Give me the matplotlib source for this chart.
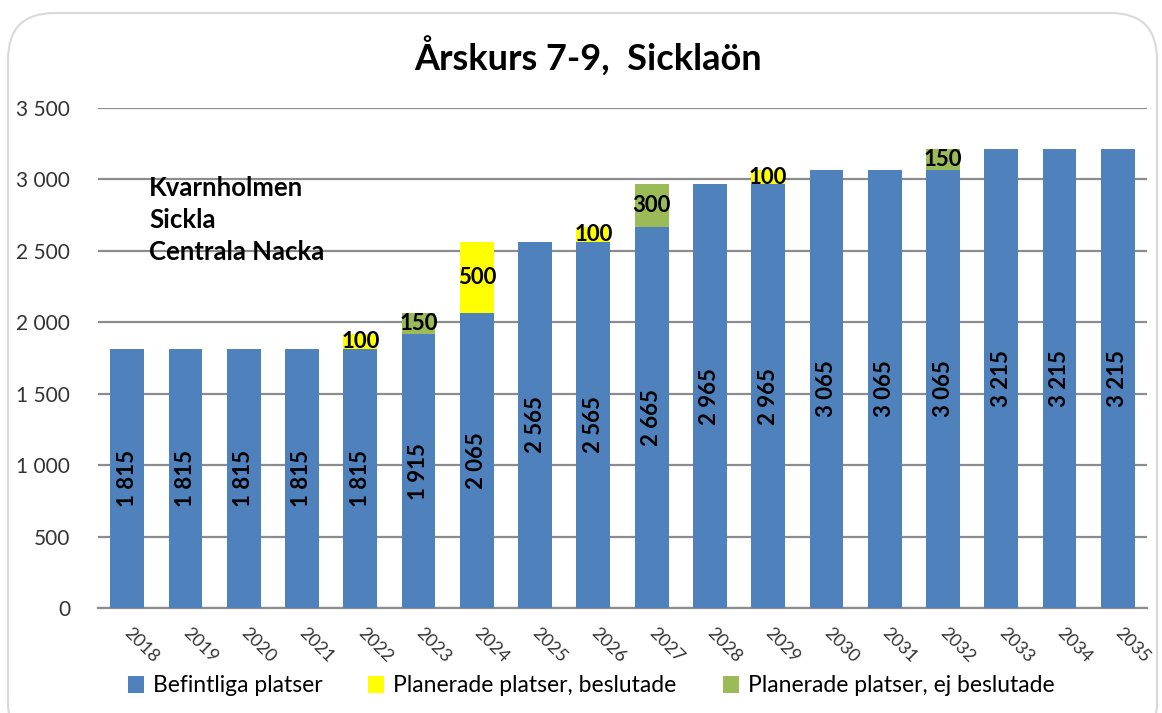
import matplotlib
matplotlib.use("Agg")
import matplotlib.pyplot as plt
from matplotlib.patches import FancyBboxPatch
import numpy as np

years = ["2018", "2019", "2020", "2021", "2022", "2023", "2024", "2025", "2026",
         "2027", "2028", "2029", "2030", "2031", "2032", "2033", "2034", "2035"]
befintliga = [1815, 1815, 1815, 1815, 1815, 1915, 2065, 2565, 2565,
              2665, 2965, 2965, 3065, 3065, 3065, 3215, 3215, 3215]
beslutade = [0, 0, 0, 0, 100, 0, 500, 0, 100, 0, 0, 100, 0, 0, 0, 0, 0, 0]
ej_beslutade = [0, 0, 0, 0, 0, 150, 0, 0, 0, 300, 0, 0, 0, 0, 150, 0, 0, 0]
series_names = ["Befintliga platser", "Planerade platser, beslutade",
                "Planerade platser, ej beslutade"]
title = "Årskurs 7-9,  Sicklaön"
area_lines = ["Kvarnholmen", "Sickla", "Centrala Nacka"]
yticks = [0, 500, 1000, 1500, 2000, 2500, 3000, 3500]

FONT = ["Lato", "DejaVu Sans"]
plt.rcParams["font.family"] = FONT

c_blue = "#4F81BD"
c_yellow = "#FFFF00"
c_green = "#9BBB59"

def fmt(v):
    return f"{v:,}".replace(",", " ")

fig = plt.figure(figsize=(11.62, 7.13), dpi=100)
W, H = 1162, 713

# rounded border
border = FancyBboxPatch((8 / W, -0.05), (1149 / W), (1 - 13 / H) + 0.05,
                        boxstyle="round,pad=0,rounding_size=0.04",
                        transform=fig.transFigure, facecolor="none",
                        edgecolor="#D9D9D9", linewidth=1.5, zorder=-1,
                        mutation_aspect=W / H)
fig.patches.append(border)

ax = fig.add_axes([98 / W, 1 - 608 / H, (1147 - 98) / W, (608 - 108) / H])
ax.set_facecolor("none")

x = np.arange(len(years))
bw = 0.58
b1 = np.array(befintliga)
b2 = np.array(beslutade)
b3 = np.array(ej_beslutade)
ax.bar(x, b1, bw, color=c_blue, label=series_names[0], zorder=3)
ax.bar(x, b2, bw, bottom=b1, color=c_yellow, label=series_names[1], zorder=3)
ax.bar(x, b3, bw, bottom=b1 + b2, color=c_green, label=series_names[2], zorder=3)

for i in range(len(years)):
    ax.text(x[i], b1[i] / 2, fmt(b1[i]), rotation=90, ha="center", va="center",
            fontsize=16, fontweight="bold", color="black", zorder=5)
    if b2[i] > 0:
        ax.text(x[i], b1[i] + b2[i] / 2, fmt(b2[i]), ha="center", va="center",
                fontsize=16, fontweight="bold", color="black", zorder=5)
    if b3[i] > 0:
        ax.text(x[i], b1[i] + b2[i] + b3[i] / 2, fmt(b3[i]), ha="center", va="center",
                fontsize=16, fontweight="bold", color="black", zorder=5)

ax.set_xlim(-0.5, len(years) - 0.5)
ax.set_ylim(0, 3500)
ax.set_yticks(yticks)
ax.set_yticklabels([fmt(v) for v in yticks], fontsize=15, color="#333333")
ax.set_xticks(x)
ax.set_xticklabels(years, rotation=-45, ha="left", va="center", fontsize=13,
                   color="#333333", rotation_mode="anchor")
ax.tick_params(axis="y", length=0, pad=20)
ax.tick_params(axis="x", length=0, pad=16)
ax.yaxis.grid(True, color="#8C8C8C", linewidth=1.6, zorder=0)
ax.set_axisbelow(True)
for s in ["top", "right", "left"]:
    ax.spines[s].set_visible(False)
ax.spines["bottom"].set_color("#8C8C8C")
ax.spines["bottom"].set_linewidth(1.6)

fig.text(588 / W, 1 - 57 / H, title, ha="center", va="center", fontsize=26,
         fontweight="bold", color="black")
for k, line in enumerate(area_lines):
    fig.text(149 / W, 1 - (196 + 32 * k) / H, line, ha="left", va="baseline",
             fontsize=18.5, fontweight="bold", color="black")

fig.legend(loc="center", bbox_to_anchor=(591 / W, 1 - 686 / H), ncol=3,
           frameon=False, fontsize=16.5, handlelength=0.7, handleheight=0.7,
           handletextpad=0.4, columnspacing=2.0)

fig.savefig("out.png", dpi=100)
